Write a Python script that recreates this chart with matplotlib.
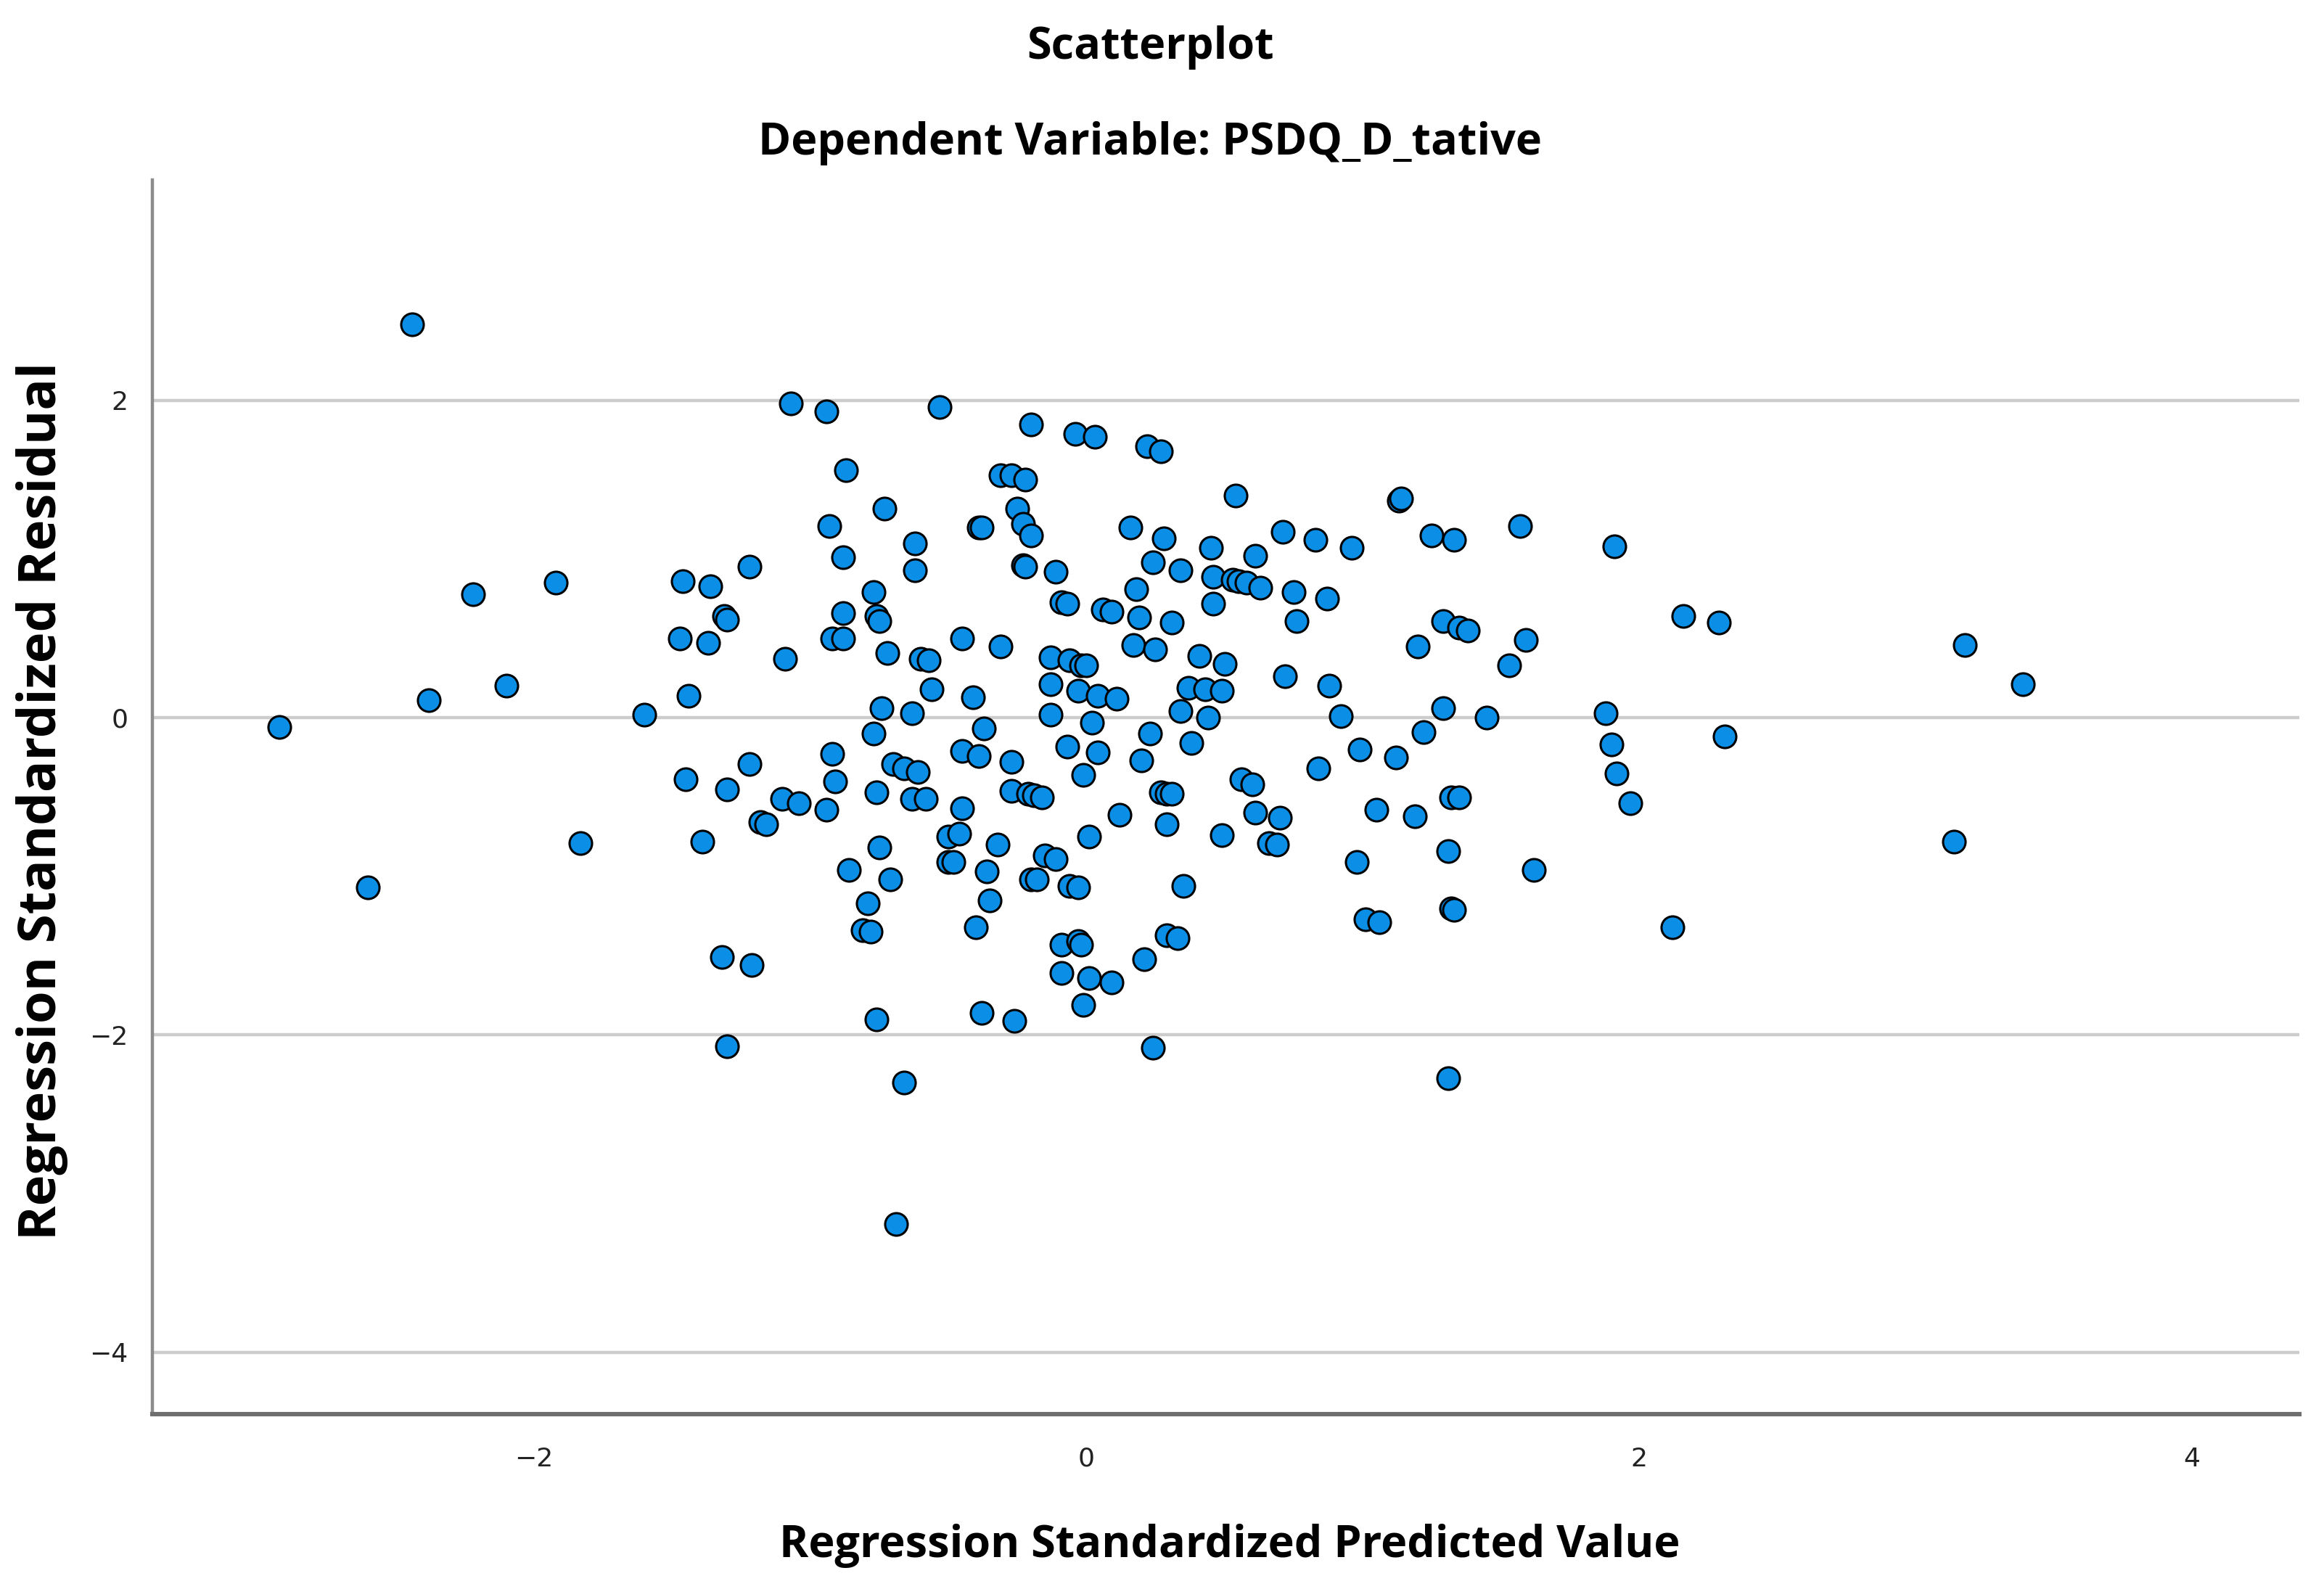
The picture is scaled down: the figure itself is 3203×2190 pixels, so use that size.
import matplotlib
matplotlib.use("Agg")
import matplotlib.pyplot as plt

# regression standardized predicted value
pred = [
    -2.44, -2.92, -2.60, -2.38, -2.22, -2.10, -1.92, -1.83, -1.60,
    -1.46, -1.47, -1.44, -1.45, -1.36, -1.37, -1.31, -1.30, -1.39, -1.32, -1.30,
    -1.30, -1.22, -1.22, -1.21, -1.18, -1.16, -1.10, -1.09, -1.07, -1.04,
    -0.94, -0.93, -0.92, -0.92, -0.94, -0.91, -0.87, -0.88, -0.88, -0.86,
    -0.88, -0.79, -0.81, -0.78, -0.77, -0.77, -0.76, -0.75, -0.76, -0.76,
    -0.75, -0.73, -0.74, -0.72, -0.71, -0.70, -0.69, -0.66, -0.66, -0.63,
    -0.62, -0.62, -0.63, -0.61, -0.60, -0.58, -0.57, -0.56, -0.53, -0.50,
    -0.50, -0.48, -0.46, -0.45, -0.45, -0.45, -0.41, -0.40, -0.39, -0.39,
    -0.38, -0.38, -0.37, -0.36, -0.35, -0.32, -0.31, -0.31, -0.27, -0.27,
    -0.27, -0.26, -0.25, -0.23, -0.23, -0.22, -0.22, -0.21, -0.20, -0.20,
    -0.19, -0.20, -0.18, -0.16, -0.15, -0.13, -0.13, -0.13, -0.11, -0.11,
    -0.09, -0.07, -0.07, -0.09, -0.09, -0.06, -0.06, -0.04, -0.03, -0.03,
    -0.03, -0.02, -0.02, -0.01, -0.01, 0.00, 0.01, 0.01, 0.02, 0.03,
    0.04, 0.04, 0.06, 0.09, 0.09, 0.11, 0.12, 0.16, 0.17, 0.18,
    0.19, 0.20, 0.21, 0.22, 0.23, 0.24, 0.24, 0.25, 0.27, 0.27,
    0.28, 0.29, 0.29, 0.29, 0.31, 0.31, 0.33, 0.34, 0.34, 0.35,
    0.37, 0.38, 0.41, 0.43, 0.44, 0.45, 0.46, 0.46, 0.49, 0.49,
    0.50, 0.53, 0.54, 0.55, 0.56, 0.58, 0.60, 0.61, 0.61, 0.63,
    0.66, 0.69, 0.70, 0.71, 0.72, 0.75, 0.76, 0.83, 0.84, 0.87,
    0.88, 0.92, 0.96, 0.98, 0.99, 1.01, 1.05, 1.06, 1.12, 1.13,
    1.14, 1.19, 1.20, 1.22, 1.25, 1.29, 1.29, 1.31, 1.31, 1.32,
    1.32, 1.33, 1.33, 1.35, 1.35, 1.38, 1.45, 1.53, 1.57, 1.59,
    1.62, 1.88, 1.91, 1.90, 1.92, 1.97, 2.12, 2.16, 2.29, 2.31,
    3.14, 3.18, 3.39,
]

# regression standardized residual
resid = [
    2.48, -0.06, -1.07, 0.11, 0.78, 0.20, 0.85, -0.79, 0.02,
    0.86, 0.50, 0.14, -0.39, 0.83, 0.47, 0.64, 0.62, -0.78, -1.51, -0.45,
    -2.07, 0.95, -0.29, -1.56, -0.66, -0.67, -0.51, 0.37, 1.98, -0.54,
    1.93, 1.21, 0.50, -0.23, -0.58, -0.40, 1.56, 0.50, 1.01, -0.96,
    0.66, -1.17, -1.34, -1.35, 0.79, -0.10, 0.64, 0.61, -1.90, -0.47,
    -0.82, 1.32, 0.06, 0.41, -1.02, -0.29, -3.19, -2.30, -0.32, 0.03,
    1.10, 0.93, -0.51, -0.34, 0.37, -0.51, 0.36, 0.18, 1.96, -0.75,
    -0.91, -0.91, -0.73, 0.50, -0.21, -0.57, 0.13, -1.32, -0.24, 1.20,
    1.20, -1.86, -0.07, -0.97, -1.15, -0.80, 0.45, 1.53, 1.53, -0.28,
    -0.46, -1.91, 1.32, 1.22, 0.96, 0.95, 1.50, -0.48, 1.85, 1.15,
    -0.49, -1.02, -1.02, -0.50, -0.87, 0.21, 0.38, 0.02, -0.89, 0.92,
    0.73, 0.72, -0.18, -1.43, -1.61, -1.06, 0.36, 1.79, 0.17, -1.41,
    -1.07, 0.33, -1.43, -1.81, -0.36, 0.33, -1.64, -0.75, -0.03, 1.77,
    0.14, -0.22, 0.68, 0.67, -1.67, 0.12, -0.61, 1.20, 0.46, 0.81,
    0.63, -0.27, -1.52, 1.71, -0.10, 0.98, -2.08, 0.43, 1.68, -0.47,
    1.13, -0.48, -0.67, -1.37, 0.60, -0.48, -1.39, 0.04, 0.93, -1.06,
    0.19, -0.16, 0.39, 0.18, 0.00, 1.07, 0.89, 0.72, -0.74, 0.17,
    0.34, 0.87, 1.40, 0.86, -0.39, 0.85, -0.42, -0.60, 1.02, 0.82,
    -0.79, -0.80, -0.63, 1.17, 0.26, 0.79, 0.61, 1.12, -0.32, 0.75,
    0.20, 0.01, 1.07, -0.91, -0.20, -1.27, -0.58, -1.29, -0.25, 1.37,
    1.38, -0.62, 0.45, -0.09, 1.15, 0.61, 0.06, -0.84, -2.27, -1.20,
    -0.50, 1.12, -1.21, 0.57, -0.50, 0.55, 0.00, 0.33, 1.21, 0.49,
    -0.96, 0.03, 1.08, -0.17, -0.35, -0.54, -1.32, 0.64, 0.60, -0.12,
    -0.78, 0.46, 0.21,
]

y_ticks = [-4, -2, 0, 2]
x_ticks = [-2, 0, 2, 4]

label_font = ["Open Sans", "DejaVu Sans"]

fig = plt.figure(figsize=(16.015, 10.95), dpi=200)
ax = fig.add_axes([0.0656, 0.110, 0.9238, 0.7768])

ax.scatter(pred, resid, s=125, color="#0b8ee6", edgecolors="black",
           linewidths=1.1, zorder=3)

ax.set_xlim(-3.38, 4.39)
ax.set_ylim(-4.39, 3.39)
ax.set_xticks(x_ticks)
ax.set_yticks(y_ticks)
ax.yaxis.grid(True, color="#cccccc", linewidth=1.6, zorder=0)
ax.set_axisbelow(True)

for side in ["top", "right"]:
    ax.spines[side].set_visible(False)
ax.spines["left"].set_color("#8c8c8c")
ax.spines["left"].set_linewidth(1.6)
ax.spines["bottom"].set_color("#6e6e6e")
ax.spines["bottom"].set_linewidth(2.2)

ax.tick_params(axis="both", length=0, labelsize=13, colors="#222222")
ax.tick_params(axis="x", pad=16)
ax.tick_params(axis="y", pad=12)

fig.text(0.495, 0.970, "Scatterplot", ha="center", va="center",
         fontsize=22, fontweight="bold", family=label_font)
fig.text(0.495, 0.910, "Dependent Variable: PSDQ_D_tative", ha="center",
         va="center", fontsize=22, fontweight="bold", family=label_font)
fig.text(0.529, 0.027, "Regression Standardized Predicted Value",
         ha="center", va="center", fontsize=22, fontweight="bold",
         family=label_font)
fig.text(0.018, 0.496, "Regression Standardized Residual", ha="center",
         va="center", rotation=90, fontsize=26, fontweight="bold",
         family=label_font)

fig.savefig("out.png", dpi=200, facecolor="white")
plt.close(fig)
